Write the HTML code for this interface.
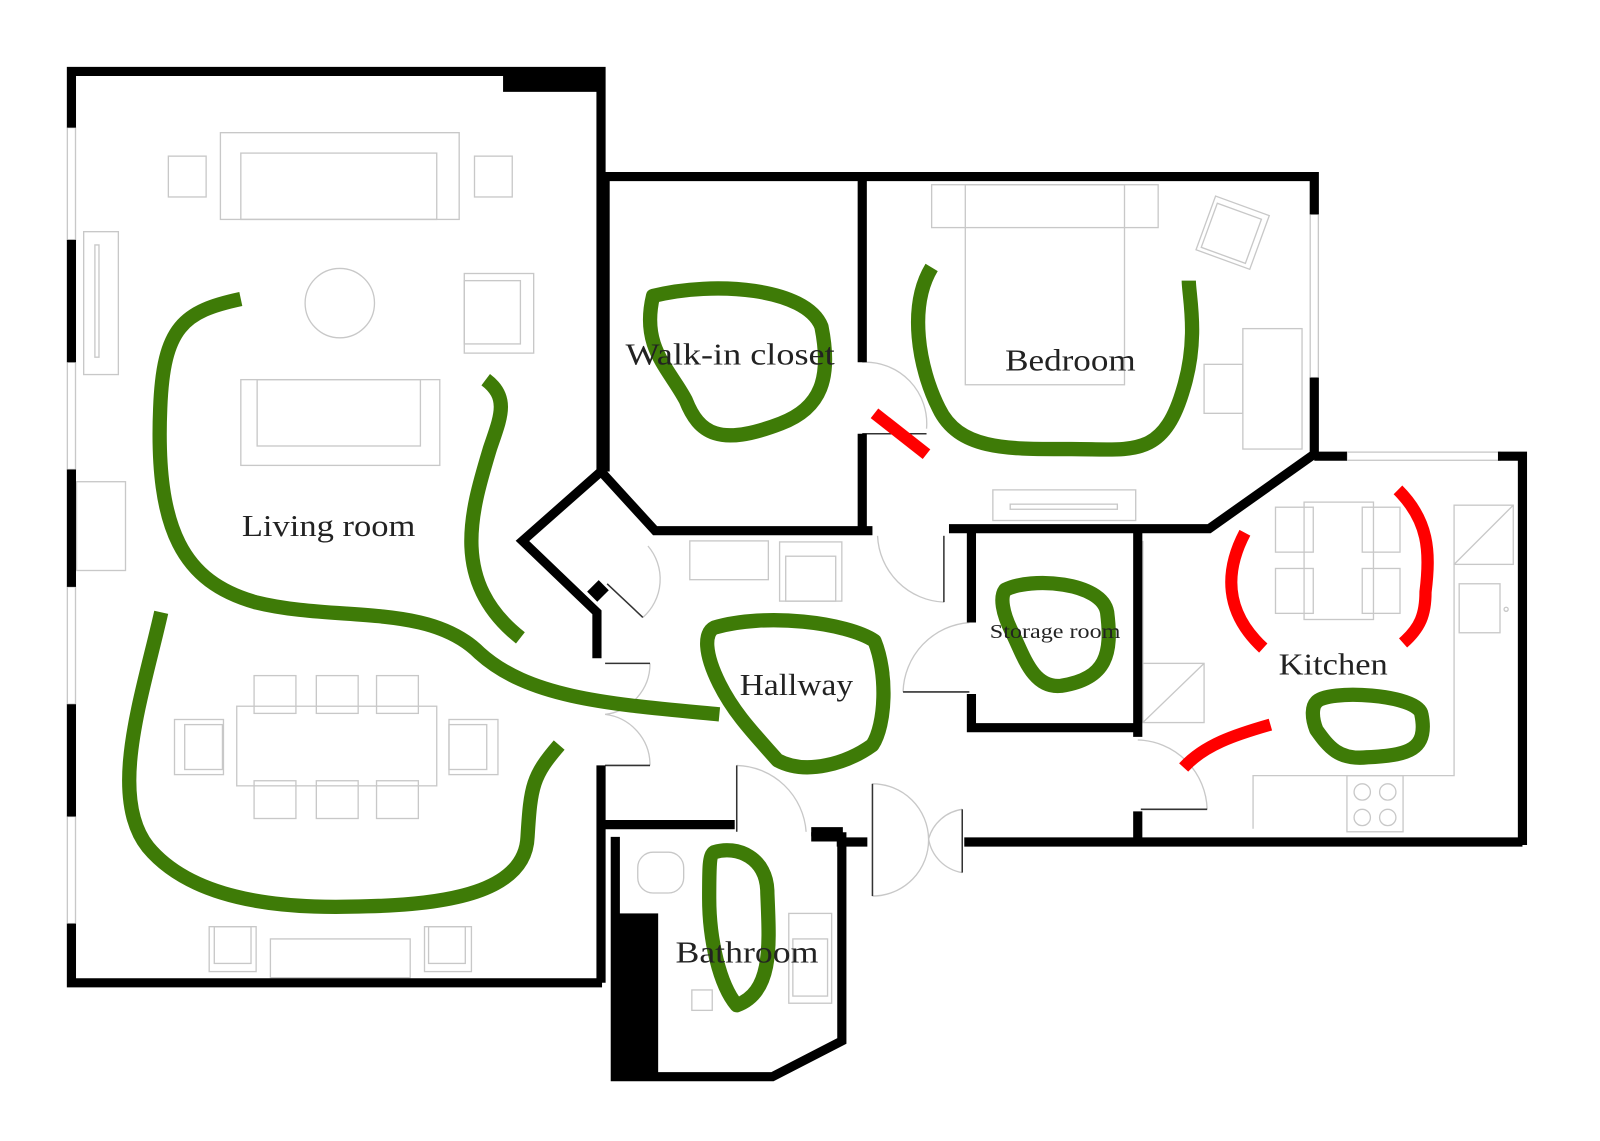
<!DOCTYPE html>
<html><head><style>html,body{margin:0;padding:0;background:#fff}svg{display:block}</style></head>
<body>
<svg width="1600" height="1141" viewBox="0 0 1568 1118" preserveAspectRatio="none" xmlns="http://www.w3.org/2000/svg">
<rect width="1568" height="1118" fill="#fff"/>
<g fill="none" stroke="#c8c8c8" stroke-width="1.3">
<rect x="216" y="130" width="234" height="85"/><rect x="236" y="150" width="192" height="65"/>
<rect x="165" y="153" width="37" height="40"/><rect x="465" y="153" width="37" height="40"/>
<circle cx="333" cy="297" r="34"/>
<rect x="455" y="268" width="68" height="78"/><rect x="455" y="275" width="55" height="62"/>
<rect x="82" y="227" width="34" height="140"/><rect x="93" y="240" width="4" height="110"/>
<rect x="236" y="372" width="195" height="84"/><rect x="252" y="372" width="160" height="65"/>
<rect x="75" y="472" width="48" height="87"/>
<rect x="232" y="692" width="196" height="78"/>
<rect x="249" y="662" width="41" height="37"/><rect x="310" y="662" width="41" height="37"/><rect x="369" y="662" width="41" height="37"/>
<rect x="249" y="765" width="41" height="37"/><rect x="310" y="765" width="41" height="37"/><rect x="369" y="765" width="41" height="37"/>
<rect x="171" y="705" width="48" height="54"/><rect x="181" y="710" width="37" height="44"/>
<rect x="440" y="705" width="48" height="54"/><rect x="440" y="710" width="37" height="44"/>
<rect x="205" y="908" width="46" height="44"/><rect x="210" y="908" width="36" height="36"/>
<rect x="265" y="920" width="137" height="38"/>
<rect x="416" y="908" width="46" height="44"/><rect x="420" y="908" width="36" height="36"/>
<rect x="913" y="181" width="222" height="42"/><rect x="946" y="181" width="156" height="196"/>
<rect x="1180" y="200" width="56" height="56" transform="rotate(20 1208 228)"/><rect x="1184" y="206" width="46" height="46" transform="rotate(20 1208 228)"/>
<rect x="1218" y="322" width="58" height="118"/><rect x="1180" y="357" width="38" height="48"/>
<rect x="973" y="480" width="140" height="30"/><rect x="990" y="494" width="105" height="5"/>
<rect x="676" y="530" width="77" height="38"/><rect x="764" y="531" width="61" height="58"/><rect x="770" y="545" width="49" height="44"/>
<rect x="1278" y="492" width="68" height="115"/>
<rect x="1250" y="497" width="37" height="44"/><rect x="1335" y="497" width="37" height="44"/>
<rect x="1250" y="557" width="37" height="44"/><rect x="1335" y="557" width="37" height="44"/>
<rect x="1425" y="495" width="58" height="58"/><line x1="1425" y1="553" x2="1483" y2="495"/>
<rect x="1430" y="572" width="40" height="48"/><circle cx="1476" cy="597" r="2"/>
<polyline points="1425,553 1425,760 1228,760 1228,812"/>
<rect x="1320" y="760" width="55" height="55"/>
<circle cx="1335" cy="776" r="8"/><circle cx="1360" cy="776" r="8"/><circle cx="1335" cy="801" r="8"/><circle cx="1360" cy="801" r="8"/>
<rect x="1120" y="650" width="60" height="58"/><line x1="1120" y1="708" x2="1180" y2="650"/>
<line x1="1120" y1="530" x2="1120" y2="650"/>
<rect x="625" y="835" width="45" height="40" rx="15"/>
<rect x="773" y="895" width="42" height="88"/><rect x="777" y="920" width="34" height="56"/>
<rect x="678" y="970" width="20" height="20"/>
<rect x="66" y="125" width="8" height="110"/><rect x="66" y="355" width="8" height="105"/>
<rect x="66" y="575" width="8" height="115"/><rect x="66" y="800" width="8" height="105"/>
<rect x="1284" y="210" width="8" height="160"/><rect x="1320" y="443" width="150" height="8"/>
<path d="M845,355 A60,60 0 0 1 908,420"/>
<path d="M635,535 A50,50 0 0 1 630,605"/>
<path d="M637,650 A50,50 0 0 1 593,700"/>
<path d="M593,700 A50,50 0 0 1 637,750"/>
<path d="M860,525 A68,68 0 0 0 925,590"/>
<path d="M950,610 A70,70 0 0 0 885,678"/>
<path d="M722,750 A70,70 0 0 1 790,815"/>
<path d="M855,768 A55,55 0 0 1 910,822 A55,55 0 0 1 855,878"/>
<path d="M943,793 A40,40 0 0 0 910,822 A40,40 0 0 0 943,855"/>
<path d="M1115,725 A70,70 0 0 1 1183,793"/>
</g>
<g stroke="#333" stroke-width="1.5" fill="none">
<line x1="845" y1="425" x2="908" y2="425"/><line x1="925" y1="525" x2="925" y2="590"/>
<line x1="885" y1="678" x2="950" y2="678"/><line x1="593" y1="650" x2="637" y2="650"/>
<line x1="593" y1="750" x2="637" y2="750"/><line x1="722" y1="750" x2="722" y2="815"/>
<line x1="595" y1="572" x2="630" y2="605"/><line x1="855" y1="768" x2="855" y2="878"/>
<line x1="943" y1="793" x2="943" y2="855"/><line x1="1118" y1="793" x2="1183" y2="793"/>
</g>
<g stroke="#000" stroke-width="9" fill="none" stroke-linejoin="miter">
<polyline points="70,125 70,70 589,70 589,462"/>
<line x1="70" y1="235" x2="70" y2="355"/><line x1="70" y1="460" x2="70" y2="575"/>
<line x1="70" y1="690" x2="70" y2="800"/><polyline points="70,905 70,963 590,963"/>
<polyline points="589,462 642,520 855,520"/>
<polyline points="589,462 512,530 585,600 585,645"/>
<polyline points="589,750 589,963"/>
<polyline points="593,173 593,462"/>
<polyline points="593,173 1288,173 1288,210"/>
<polyline points="1288,370 1288,445 1185,518 930,518"/>
<line x1="845" y1="173" x2="845" y2="355"/><line x1="845" y1="425" x2="845" y2="520"/>
<polyline points="1288,447 1320,447"/><polyline points="1468,447 1492,447 1492,828"/>
<polyline points="945,825 1492,825"/><line x1="1115" y1="795" x2="1115" y2="825"/>
<polyline points="952,520 952,610"/><polyline points="952,680 952,713 1115,713"/>
<line x1="1115" y1="520" x2="1115" y2="722"/>
<polyline points="589,808 720,808"/>
<polyline points="603,820 603,1055 757,1055 825,1020 825,820 795,820"/>
<line x1="795" y1="815" x2="826" y2="815"/><line x1="820" y1="825" x2="850" y2="825"/>
</g>
<rect x="493" y="70" width="96" height="20" fill="#000"/>
<rect x="601" y="895" width="44" height="160" fill="#000"/>
<rect x="578" y="572" width="16" height="14" fill="#000" transform="rotate(-45 586 579)"/>
<g stroke="#3e7b07" stroke-width="14" fill="none" stroke-linecap="butt" stroke-linejoin="round">
<path d="M236,293 C180,305 160,320 157,400 C152,520 180,570 250,590 C330,610 420,590 470,640 C520,685 600,690 705,700"/>
<path d="M476,372 C500,390 490,410 480,440 C462,500 440,570 510,625"/>
<path d="M158,600 C140,680 105,780 145,830 C195,890 300,890 360,888 C450,886 515,870 517,820 C520,770 522,760 548,730"/>
<path d="M640,290 C700,275 790,282 805,320 C815,370 805,400 765,415 C705,438 685,425 672,392 C655,360 628,340 640,290 Z"/>
<path d="M913,262 C890,300 900,360 920,400 C940,442 990,440 1050,440 C1110,440 1140,450 1160,380 C1175,330 1165,290 1165,275"/>
<path d="M700,615 C750,600 830,610 857,628 C870,660 868,710 855,730 C830,748 790,760 762,745 C740,720 720,700 705,670 C690,640 690,620 700,615 Z"/>
<path d="M985,578 C1010,565 1080,570 1085,600 C1090,640 1085,665 1040,672 C1012,675 1003,642 992,620 C982,600 980,585 985,578 Z"/>
<path d="M1290,688 C1300,675 1390,680 1393,700 C1400,735 1380,740 1340,742 C1312,745 1302,732 1290,715 C1285,702 1286,692 1290,688 Z"/>
<path d="M700,835 C722,828 752,840 752,875 C754,925 758,972 722,985 C705,965 695,920 695,880 C695,850 695,838 700,835 Z"/>
</g>
<g stroke="#f00" stroke-width="12" fill="none">
<path d="M857,405 L908,445"/>
<path d="M1220,522 C1200,560 1200,600 1238,635"/>
<path d="M1370,480 C1400,510 1402,540 1397,580 C1397,602 1392,615 1375,630"/>
<path d="M1160,752 C1180,730 1210,720 1245,710"/>
</g>
<g font-family="'Liberation Serif', serif" fill="#222" font-size="30">
<text x="613" y="357" textLength="205" lengthAdjust="spacingAndGlyphs">Walk-in closet</text>
<text x="985" y="363" textLength="128" lengthAdjust="spacingAndGlyphs">Bedroom</text>
<text x="237" y="525" textLength="170" lengthAdjust="spacingAndGlyphs">Living room</text>
<text x="725" y="681" textLength="111" lengthAdjust="spacingAndGlyphs">Hallway</text>
<text x="970" y="625" font-size="20" textLength="128" lengthAdjust="spacingAndGlyphs">Storage room</text>
<text x="1253" y="661" textLength="107" lengthAdjust="spacingAndGlyphs">Kitchen</text>
<text x="662" y="943" textLength="140" lengthAdjust="spacingAndGlyphs">Bathroom</text>
</g>
</svg>
</body></html>
